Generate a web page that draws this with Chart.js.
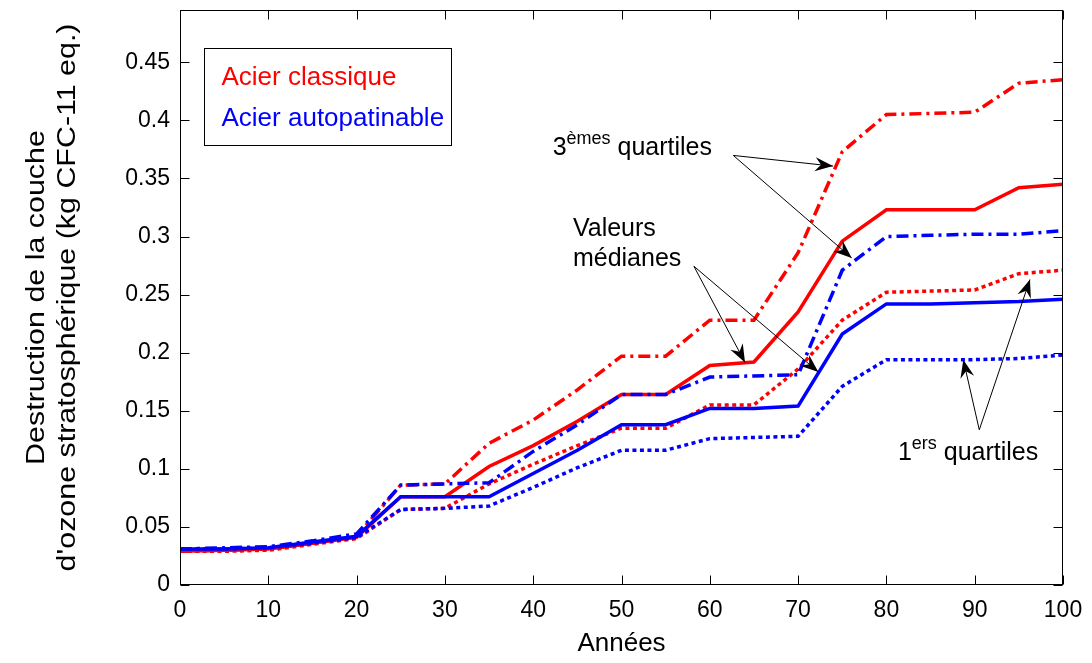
<!DOCTYPE html>
<html lang="fr">
<head>
<meta charset="utf-8">
<title>Destruction de la couche d'ozone</title>
<script src="https://cdn.jsdelivr.net/npm/chart.js@4.4.1/dist/chart.umd.min.js"></script>
<style>
  html, body { margin: 0; padding: 0; background: #fff; }
  #wrap { width: 1092px; height: 663px; }
</style>
</head>
<body>
<div id="wrap"><canvas id="chart" width="1092" height="663"></canvas></div>
<script>
// données (années 0 -> 100, pas de 5)
const years = [0, 5, 10, 15, 20, 25, 30, 35, 40, 45, 50, 55, 60, 65, 70, 75, 80, 85, 90, 95, 100];

const q3Classique  = [0.029, 0.030, 0.031, 0.036, 0.042, 0.086, 0.087, 0.122, 0.142, 0.168, 0.197, 0.197, 0.228, 0.228, 0.286, 0.373, 0.405, 0.406, 0.407, 0.432, 0.435];
const medClassique = [0.029, 0.030, 0.031, 0.036, 0.041, 0.076, 0.076, 0.102, 0.120, 0.141, 0.164, 0.164, 0.189, 0.192, 0.235, 0.296, 0.323, 0.323, 0.323, 0.342, 0.345];
const q1Classique  = [0.029, 0.029, 0.030, 0.035, 0.040, 0.065, 0.066, 0.087, 0.104, 0.120, 0.135, 0.135, 0.155, 0.155, 0.186, 0.228, 0.252, 0.253, 0.254, 0.268, 0.271];

const q3Auto  = [0.031, 0.032, 0.033, 0.038, 0.044, 0.086, 0.087, 0.088, 0.115, 0.138, 0.164, 0.164, 0.179, 0.180, 0.181, 0.271, 0.300, 0.301, 0.302, 0.302, 0.305];
const medAuto = [0.031, 0.031, 0.032, 0.037, 0.042, 0.076, 0.076, 0.076, 0.096, 0.116, 0.138, 0.138, 0.152, 0.152, 0.154, 0.216, 0.242, 0.242, 0.243, 0.244, 0.246];
const q1Auto  = [0.031, 0.031, 0.032, 0.036, 0.041, 0.065, 0.066, 0.068, 0.084, 0.101, 0.116, 0.116, 0.126, 0.127, 0.128, 0.171, 0.194, 0.194, 0.194, 0.195, 0.198];

const xTicks = [0, 10, 20, 30, 40, 50, 60, 70, 80, 90, 100];
const yTicks = [0, 0.05, 0.1, 0.15, 0.2, 0.25, 0.3, 0.35, 0.4, 0.45];
const yTickLabels = ['0', '0.05', '0.1', '0.15', '0.2', '0.25', '0.3', '0.35', '0.4', '0.45'];
const yTitle = ['Destruction de la couche', "d'ozone stratosphérique (kg CFC-11 eq.)"];

const RED = '#ff0000';
const BLUE = '#0000ff';
const FONT = '"Liberation Sans", Arial, sans-serif';

const pts = arr => years.map((x, i) => ({ x, y: arr[i] }));

const SOLID = [];
const DASHDOT = [12, 5, 3, 5];
const DOTTED = [4, 3.5];

function serie(label, arr, color, dash) {
  return {
    label,
    data: pts(arr),
    borderColor: color,
    borderWidth: 3.5,
    borderDash: dash,
    borderCapStyle: 'butt',
    pointRadius: 0,
    tension: 0,
    fill: false
  };
}

// annotations (coordonnées en unités des axes)
const notes = [
  { x: 42.2, y: 0.3698, parts: [['3', 25, 0], ['èmes', 18, -11], [' quartiles', 25, 0]] },
  { x: 44.5, y: 0.3003, parts: [['Valeurs', 25, 0]] },
  { x: 44.5, y: 0.2744, parts: [['médianes', 25, 0]] },
  { x: 81.3, y: 0.1078, parts: [['1', 25, 0], ['ers', 18, -11], [' quartiles', 25, 0]] }
];

const arrows = [
  { from: [62.66, 0.3698], to: [73.95, 0.3606] },
  { from: [62.66, 0.3698], to: [76.07, 0.2816] },
  { from: [58.2, 0.2744], to: [63.99, 0.1916] },
  { from: [58.2, 0.2744], to: [72.29, 0.1834] },
  { from: [90.52, 0.1336], to: [88.71, 0.194] },
  { from: [90.52, 0.1336], to: [96.26, 0.263] }
];

const legendItems = [['Acier classique', RED], ['Acier autopatinable', BLUE]];

function drawArrow(ctx, x1, y1, x2, y2) {
  ctx.beginPath();
  ctx.moveTo(x1, y1);
  ctx.lineTo(x2, y2);
  ctx.stroke();
  const ang = Math.atan2(y2 - y1, x2 - x1);
  const L = 18, W = 7, N = 12;
  const c = Math.cos(ang), s = Math.sin(ang);
  ctx.beginPath();
  ctx.moveTo(x2, y2);
  ctx.lineTo(x2 - L * c - W * s, y2 - L * s + W * c);
  ctx.lineTo(x2 - N * c, y2 - N * s);
  ctx.lineTo(x2 - L * c + W * s, y2 - L * s - W * c);
  ctx.closePath();
  ctx.fill();
}

const frameAndNotes = {
  id: 'frameAndNotes',
  afterDraw(chart) {
    const { ctx, chartArea: a, scales: { x, y } } = chart;
    const L = Math.round(a.left) + 0.5, R = Math.round(a.right) - 0.5;
    const T = Math.round(a.top) + 0.5, B = Math.round(a.bottom) - 0.5;
    ctx.save();
    ctx.strokeStyle = '#000';
    ctx.lineWidth = 1;
    ctx.strokeRect(L, T, R - L, B - T);

    // petites graduations vers l'intérieur, sur les 4 côtés
    ctx.beginPath();
    xTicks.forEach(v => {
      const px = Math.round(x.getPixelForValue(v)) + 0.5;
      ctx.moveTo(px, B); ctx.lineTo(px, B - 9);
      ctx.moveTo(px, T); ctx.lineTo(px, T + 9);
    });
    yTicks.forEach(v => {
      const py = Math.round(y.getPixelForValue(v)) + 0.5;
      ctx.moveTo(L, py); ctx.lineTo(L + 9, py);
      ctx.moveTo(R, py); ctx.lineTo(R - 9, py);
    });
    ctx.stroke();

    // titre de l'axe Y (deux lignes, un peu étiré comme l'original)
    ctx.save();
    ctx.translate(37, (a.top + a.bottom) / 2);
    ctx.rotate(-Math.PI / 2);
    ctx.scale(1.17, 1);
    ctx.fillStyle = '#000';
    ctx.font = '26px ' + FONT;
    ctx.textAlign = 'center';
    ctx.textBaseline = 'middle';
    yTitle.forEach((t, i) => ctx.fillText(t, 0, i * 31));
    ctx.restore();

    // légende (texte coloré dans un cadre)
    const bx = L + 24, by = T + 38;
    ctx.fillStyle = '#fff';
    ctx.fillRect(bx, by, 247, 97);
    ctx.strokeRect(bx, by, 247, 97);
    ctx.font = '26px ' + FONT;
    ctx.textBaseline = 'alphabetic';
    ctx.textAlign = 'left';
    legendItems.forEach(([txt, col], i) => {
      ctx.fillStyle = col;
      ctx.fillText(txt, bx + 17, by + 36 + i * 41);
    });

    // textes des annotations
    ctx.fillStyle = '#000';
    notes.forEach(n => {
      let px = x.getPixelForValue(n.x);
      const py = y.getPixelForValue(n.y);
      n.parts.forEach(([txt, size, dy]) => {
        ctx.font = size + 'px ' + FONT;
        ctx.fillText(txt, px, py + dy);
        px += ctx.measureText(txt).width;
      });
    });

    // flèches
    ctx.lineWidth = 1;
    arrows.forEach(ar => {
      drawArrow(ctx,
        x.getPixelForValue(ar.from[0]), y.getPixelForValue(ar.from[1]),
        x.getPixelForValue(ar.to[0]), y.getPixelForValue(ar.to[1]));
    });
    ctx.restore();
  }
};

new Chart(document.getElementById('chart'), {
  type: 'line',
  data: {
    datasets: [
      // bleu tracé par-dessus le rouge
      serie('Acier autopatinable - 3e quartile', q3Auto, BLUE, DASHDOT),
      serie('Acier autopatinable - médiane', medAuto, BLUE, SOLID),
      serie('Acier autopatinable - 1er quartile', q1Auto, BLUE, DOTTED),
      serie('Acier classique - 3e quartile', q3Classique, RED, DASHDOT),
      serie('Acier classique - médiane', medClassique, RED, SOLID),
      serie('Acier classique - 1er quartile', q1Classique, RED, DOTTED)
    ]
  },
  options: {
    responsive: false,
    animation: false,
    devicePixelRatio: 1,
    layout: { padding: { left: 0, right: 29, top: 10, bottom: 0 } },
    plugins: {
      legend: { display: false },
      tooltip: { enabled: false }
    },
    scales: {
      x: {
        type: 'linear',
        min: 0,
        max: 100,
        afterBuildTicks: s => { s.ticks = xTicks.map(v => ({ value: v })); },
        afterFit: s => { s.height = 78; s.paddingLeft = 0; s.paddingRight = 0; },
        grid: { display: false, drawTicks: false },
        border: { display: false },
        ticks: { color: '#000', padding: 12, maxRotation: 0, font: { family: FONT, size: 23 } },
        title: {
          display: true,
          text: 'Années',
          color: '#000',
          padding: { top: 0, bottom: 4 },
          font: { family: FONT, size: 26 }
        }
      },
      y: {
        type: 'linear',
        min: 0,
        max: 0.495,
        afterBuildTicks: s => { s.ticks = yTicks.map(v => ({ value: v })); },
        afterFit: s => { s.width = 180; s.paddingTop = 0; s.paddingBottom = 0; },
        grid: { display: false, drawTicks: false },
        border: { display: false },
        ticks: {
          color: '#000',
          padding: 10,
          font: { family: FONT, size: 23 },
          callback: (v, i) => yTickLabels[i]
        }
      }
    }
  },
  plugins: [frameAndNotes]
});
</script>
</body>
</html>
